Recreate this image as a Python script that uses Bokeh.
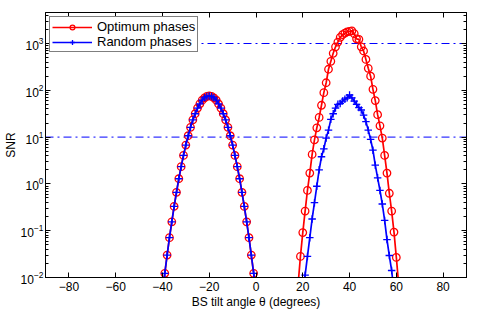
from bokeh.plotting import figure
from bokeh.models import (ColumnDataSource, LinearAxis, LogAxis, LogTicker, FixedTicker,
                          Span, Legend, LegendItem, CustomJSTickFormatter)
from bokeh.embed import file_html
from bokeh.resources import INLINE

# ---- data ----
theta_left = list(range(-40, 1))
opt_left = [0.0048, 0.0123, 0.0302, 0.0708, 0.155, 0.331, 0.66, 1.29, 2.34, 4.07,
            6.76, 10.7, 16.2, 23.4, 31.6, 41.7, 51.3, 61.7, 69.2, 74.1,
            75.9,
            74.1, 69.2, 61.7, 51.3, 41.7, 31.6, 23.4, 16.2, 10.7, 6.76,
            4.07, 2.34, 1.29, 0.66, 0.331, 0.155, 0.0708, 0.0302, 0.0123, 0.0048]
rnd_left = [0.0048, 0.0123, 0.0302, 0.0708, 0.155, 0.331, 0.66, 1.29, 2.34, 4.07,
            6.76, 10.7, 16.2, 23.4, 31.6, 41.7, 51.3, 61.7, 69.2, 74.1,
            75.9,
            74.1, 69.2, 61.7, 51.3, 41.7, 31.6, 23.4, 16.2, 10.7, 6.76,
            4.07, 2.34, 1.29, 0.66, 0.331, 0.155, 0.0708, 0.0302, 0.0123, 0.0048]

theta_opt_right = list(range(18, 62))
opt_right = [0.0071, 0.0282, 0.0912, 0.263, 0.724, 1.70, 4.27, 8.71, 15.8, 26.3,
             47.9, 89.1, 145, 282, 417, 617, 851, 1072, 1349, 1549,
             1660, 1778, 1820, 1862, 1622, 1259, 1230, 851, 692, 457,
             295, 200, 105, 60.3, 30.2, 17.4, 9.55, 4.07, 1.70, 0.631,
             0.263, 0.0933, 0.0269, 0.0071]

theta_rnd_right = list(range(20, 60))
rnd_right = [0.0050, 0.0112, 0.0282, 0.0708, 0.178, 0.398, 0.891, 2.00, 3.80, 5.62,
             9.55, 14.1, 24.0, 31.6, 41.7, 50.1, 52.5, 58.9, 64.6, 69.2,
             79.4, 69.2, 58.9, 50.1, 42.7, 38.0, 29.5, 21.4, 14.1, 8.91,
             5.25, 2.51, 1.35, 0.724, 0.372, 0.166, 0.0646, 0.0295, 0.0141, 0.0050]

ref_levels = [10, 1000]
x_ticks = [-80, -60, -40, -20, 0, 20, 40, 60, 80]

FONT = "Liberation Sans"
RED = "#ff0000"
BLUE = "#0000ff"

p = figure(width=491, height=311, x_range=(-90, 90), y_range=(1e-2, 4600),
           y_axis_type="log", output_backend="svg", toolbar_location=None,
           min_border_left=0, min_border_right=25, min_border_top=12, min_border_bottom=33)
p.grid.visible = False
p.outline_line_color = "black"
p.background_fill_color = "white"

for lv in ref_levels:
    p.add_layout(Span(location=lv, dimension="width", line_color=BLUE,
                      line_dash="8 4 2 4", line_width=1, level="underlay"))

series = [
    ("opt", [(theta_left, opt_left), (theta_opt_right, opt_right)], RED, "circle"),
    ("rnd", [(theta_left, rnd_left), (theta_rnd_right, rnd_right)], BLUE, "cross"),
]
legend_renderers = {}
for name, segs, color, marker in series:
    rs = []
    for xs, ys in segs:
        src = ColumnDataSource(dict(x=xs, y=ys))
        rl = p.line("x", "y", source=src, line_color=color, line_width=1.7)
        if marker == "circle":
            rm = p.scatter("x", "y", source=src, marker="circle", size=7.5, fill_color=None,
                           line_color=color, line_width=1.3)
        else:
            rm = p.scatter("x", "y", source=src, marker="cross", size=7.5,
                           line_color=color, line_width=1.3)
        rs.append((rl, rm))
    legend_renderers[name] = list(rs[0])

def style_axis(ax):
    ax.major_tick_in = 5
    ax.major_tick_out = 0
    ax.minor_tick_in = 3
    ax.minor_tick_out = 0
    ax.axis_line_color = "black"
    ax.major_label_text_font = FONT
    ax.major_label_text_font_size = "12px"
    ax.major_label_text_color = "black"
    ax.axis_label_text_font = FONT
    ax.axis_label_text_font_size = "12px"
    ax.axis_label_text_font_style = "normal"
    ax.axis_label_text_color = "black"

xa = p.xaxis[0]
xa.ticker = FixedTicker(ticks=x_ticks)
xa.axis_label = "BS tilt angle θ (degrees)"
style_axis(xa)
xa.major_label_standoff = 4
xa.axis_label_standoff = 1

ya = p.yaxis[0]
ya.ticker = LogTicker(num_minor_ticks=10)
ya.axis_label = "SNR"
style_axis(ya)
ya.major_label_standoff = 2
ya.axis_label_standoff = 0

blank = CustomJSTickFormatter(code="return ''")
top = LinearAxis(ticker=FixedTicker(ticks=x_ticks), formatter=blank)
style_axis(top)
top.major_label_standoff = 0
p.add_layout(top, "above")

right = LogAxis(ticker=LogTicker(num_minor_ticks=10),
                formatter=CustomJSTickFormatter(code="return ''"))
style_axis(right)
right.major_label_standoff = 0
p.add_layout(right, "right")

legend = Legend(items=[LegendItem(label="Optimum phases", renderers=legend_renderers["opt"]),
                       LegendItem(label="Random phases", renderers=legend_renderers["rnd"])],
                location="top_left")
legend.label_text_font = FONT
legend.label_text_font_size = "13px"
legend.label_text_color = "black"
legend.border_line_color = "black"
legend.border_line_width = 1
legend.background_fill_alpha = 1.0
legend.padding = 2
legend.spacing = 0
legend.margin = 4
legend.glyph_width = 40
legend.glyph_height = 12
legend.label_height = 12
legend.label_standoff = 5
p.add_layout(legend)

open("out.html", "w").write(file_html(p, INLINE))
